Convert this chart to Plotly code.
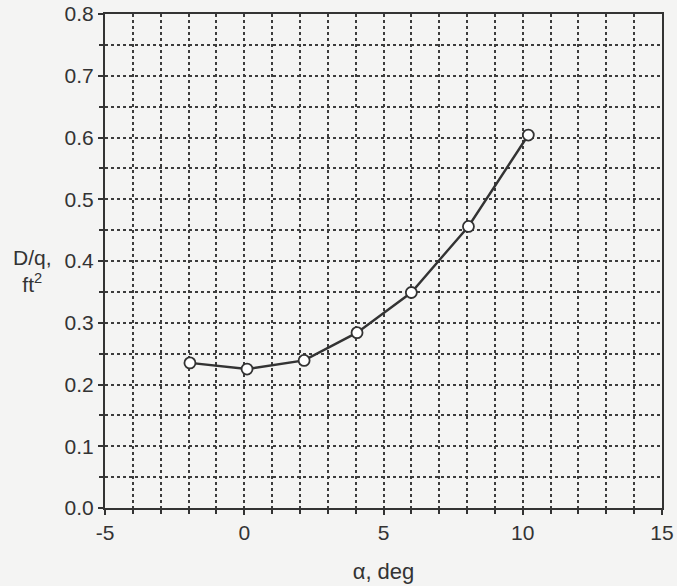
import plotly.graph_objects as go

alpha_deg = [-1.95, 0.1, 2.15, 4.05, 6.0, 8.05, 10.2]
d_over_q = [0.235, 0.225, 0.239, 0.284, 0.349, 0.456, 0.604]

x_ticks = [-5, 0, 5, 10, 15]
y_ticks = [0.0, 0.1, 0.2, 0.3, 0.4, 0.5, 0.6, 0.7, 0.8]

ink = "#333333"
gridc = "#3c3c3c"
bg = "#f4f4f3"
fig = go.Figure()
fig.add_trace(go.Scatter(
    x=alpha_deg, y=d_over_q, mode="lines+markers",
    line=dict(color=ink, width=2.4),
    marker=dict(symbol="circle", size=11, color="white", line=dict(color=ink, width=1.8)),
    showlegend=False, cliponaxis=False,
))

fig.update_xaxes(
    range=[-5, 15], tickvals=x_ticks, ticktext=[str(v) for v in x_ticks],
    ticks="outside", ticklen=5, tickcolor=ink, tickwidth=1.5,
    minor=dict(dtick=1, ticks="outside", ticklen=4, tickcolor=ink, showgrid=True,
               gridcolor=gridc, gridwidth=1.8, griddash="dot"),
    showline=True, linecolor=ink, linewidth=2, mirror=True,
    zeroline=False, automargin=False,
    showgrid=True, gridcolor=gridc, gridwidth=1.8, griddash="dot",
    title=dict(text="α,\u00a0deg", font=dict(size=22, color="#333"), standoff=20),
    tickfont=dict(size=21, color="#333"),
)
fig.update_yaxes(
    range=[0, 0.8], tickvals=y_ticks, ticktext=[f"{v:.1f}" for v in y_ticks],
    ticks="outside", ticklen=5, tickcolor=ink, tickwidth=1.5,
    minor=dict(dtick=0.05, ticks="outside", ticklen=4, tickcolor=ink, showgrid=True,
               gridcolor=gridc, gridwidth=1.8, griddash="dot"),
    showline=True, linecolor=ink, linewidth=2, mirror=True,
    zeroline=False, automargin=False,
    showgrid=True, gridcolor=gridc, gridwidth=1.8, griddash="dot",
    tickfont=dict(size=21, color="#333"),
)
fig.add_annotation(
    text="D/q,<br>ft<sup>2</sup>", xref="paper", yref="paper", x=-0.13, y=0.48,
    xanchor="center", yanchor="middle", showarrow=False, align="center",
    font=dict(size=21, color="#333"),
)
fig.update_layout(
    width=677, height=586,
    margin=dict(l=105, r=15, t=14, b=78, autoexpand=False),
    paper_bgcolor=bg, plot_bgcolor=bg,
    font=dict(family="Liberation Sans, Arial, sans-serif"),
)
fig.write_html(
    "out.html",
    config={"displayModeBar": False},
    post_script="document.body.style.margin='0';document.body.style.background='%s';" % bg,
)
